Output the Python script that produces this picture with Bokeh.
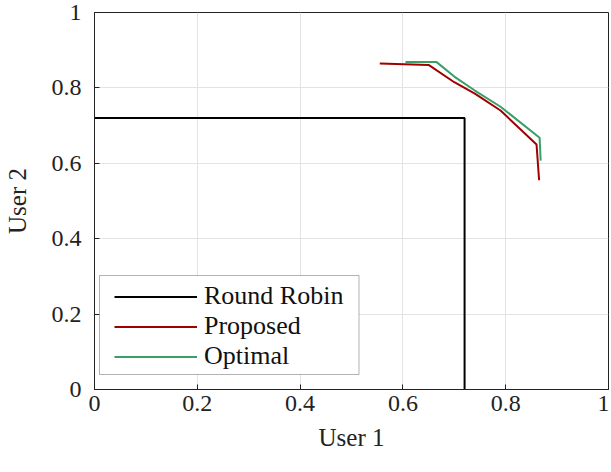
from bokeh.plotting import figure
from bokeh.models import Range1d, FixedTicker, BoxAnnotation
from bokeh.embed import file_html
from bokeh.resources import INLINE

# Data
rr_x = [0.0, 0.72, 0.72]
rr_y = [0.72, 0.72, 0.0]

proposed_x = [0.555, 0.650, 0.700, 0.740, 0.790, 0.860, 0.865]
proposed_y = [0.865, 0.861, 0.815, 0.785, 0.740, 0.650, 0.555]

optimal_x = [0.605, 0.665, 0.700, 0.740, 0.790, 0.866, 0.868]
optimal_y = [0.869, 0.869, 0.830, 0.793, 0.750, 0.668, 0.607]

ticks = [0, 0.2, 0.4, 0.6, 0.8, 1]
tick_labels = ["0", "0.2", "0.4", "0.6", "0.8", "1"]

FONT = "Liberation Serif"

p = figure(width=609, height=465, output_backend="svg", toolbar_location=None,
           x_range=Range1d(0, 1), y_range=Range1d(0, 1),
           min_border_left=94, min_border_right=1, min_border_top=12, min_border_bottom=76)

p.line(rr_x, rr_y, line_color="black", line_width=2, legend_label="Round Robin")
p.line(proposed_x, proposed_y, line_color="#a00000", line_width=2, legend_label="Proposed")
p.line(optimal_x, optimal_y, line_color="#3a9e6a", line_width=2, legend_label="Optimal")

for ax in (p.xaxis[0], p.yaxis[0]):
    ax.ticker = FixedTicker(ticks=ticks)
    ax.major_label_overrides = {t: l for t, l in zip(ticks, tick_labels)}
    ax.major_label_text_font = FONT
    ax.major_label_text_font_size = "24px"
    ax.major_label_text_color = "#222222"
    ax.axis_label_text_font = FONT
    ax.axis_label_text_font_size = "25px"
    ax.axis_label_text_font_style = "normal"
    ax.axis_label_text_color = "#222222"
    ax.major_tick_in = 5
    ax.major_tick_out = 0
    ax.minor_tick_in = 0
    ax.minor_tick_out = 0
    ax.axis_line_color = "#222222"
    ax.major_tick_line_color = "#222222"

p.xaxis.axis_label = "User 1"
p.yaxis.axis_label = "User 2"
p.xaxis.major_label_standoff = 6
p.yaxis.major_label_standoff = 13
p.xaxis.axis_label_standoff = 10
p.yaxis.axis_label_standoff = 18

p.grid.grid_line_color = "#e3e3e3"
p.grid.grid_line_width = 1
p.outline_line_color = "#222222"
p.outline_line_width = 1

lg = p.legend[0]
lg.location = (20, 18)
lg.border_line_color = None
lg.background_fill_alpha = 0
lg.label_text_font = FONT
lg.label_text_font_size = "26px"
lg.label_text_color = "#111111"
lg.glyph_width = 83
lg.glyph_height = 29
lg.label_height = 29
lg.label_standoff = 7
lg.spacing = 0
lg.padding = 5
lg.margin = 0

# legend frame (white box with black border) drawn beneath the legend entries
box = BoxAnnotation(left=0.0097, right=0.5146, bottom=0.0398, top=0.3024,
                    fill_color="white", fill_alpha=1,
                    line_color="black", line_width=1)
others = [r for r in p.center if r is not lg]
p.center = others + [box, lg]

open("out.html", "w").write(file_html(p, INLINE))
